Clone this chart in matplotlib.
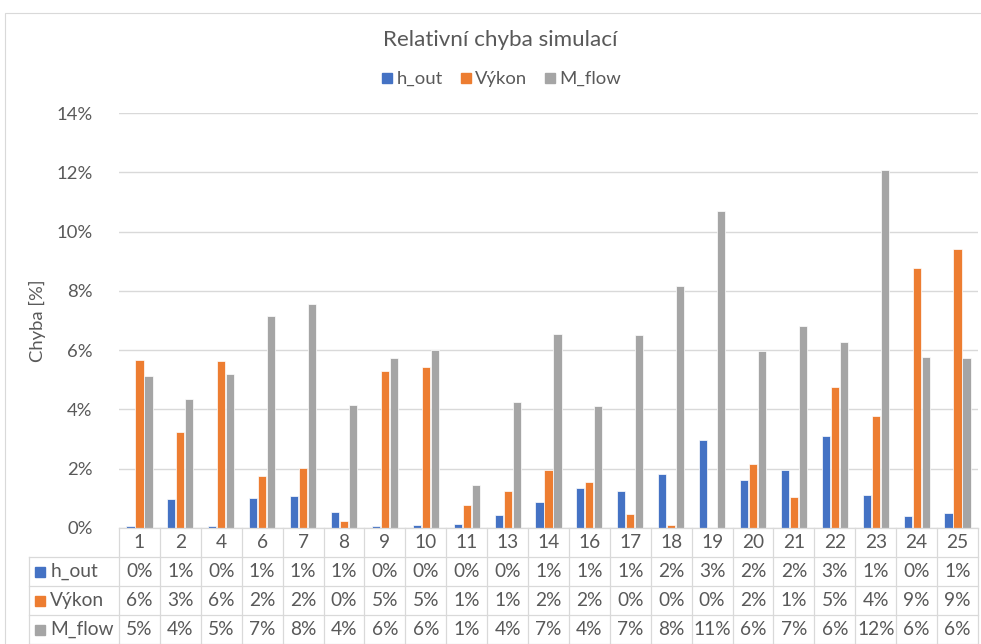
import matplotlib
matplotlib.use("Agg")
import matplotlib.pyplot as plt
from matplotlib.patches import Rectangle
from matplotlib.lines import Line2D
import numpy as np

plt.rcParams['font.family'] = ['Lato', 'DejaVu Sans']

categories = ['1', '2', '4', '6', '7', '8', '9', '10', '11', '13', '14', '16', '17',
              '18', '19', '20', '21', '22', '23', '24', '25']
h_out = [0.08, 0.98, 0.07, 1.02, 1.09, 0.54, 0.07, 0.10, 0.14, 0.45, 0.87, 1.35, 1.26,
         1.82, 2.97, 1.63, 1.96, 3.10, 1.13, 0.41, 0.52]
vykon = [5.67, 3.24, 5.65, 1.77, 2.03, 0.25, 5.29, 5.42, 0.79, 1.24, 1.96, 1.55, 0.46,
         0.11, 0.0, 2.15, 1.04, 4.74, 3.77, 8.77, 9.42]
m_flow = [5.14, 4.34, 5.21, 7.15, 7.56, 4.14, 5.74, 5.99, 1.44, 4.25, 6.54, 4.10, 6.51,
          8.18, 10.70, 5.98, 6.80, 6.26, 12.09, 5.77, 5.73]
series_names = ['h_out', 'Výkon', 'M_flow']
colors = ['#4472C4', '#ED7D31', '#A5A5A5']
y_ticks = [0, 2, 4, 6, 8, 10, 12, 14]

TXT = '#595959'
GRID = '#D9D9D9'
W, H = 981, 644

fig = plt.figure(figsize=(W / 100, H / 100), dpi=100)
fig.patch.set_facecolor('white')

# outer chart border
fig.patches.append(Rectangle((5 / W, -0.1), 1.1, (H - 13) / H + 0.1, transform=fig.transFigure,
                             fill=False, edgecolor=GRID, linewidth=0.8))

left, right = 119 / W, 978 / W
ax = fig.add_axes([left, (H - 528) / H, right - left, (528 - 113) / H])
n = len(categories)
x = np.arange(n)
series = [h_out, vykon, m_flow]
off = 0.22
bw = 0.2
for k, (vals, c, name) in enumerate(zip(series, colors, series_names)):
    ax.bar(x + (k - 1) * off, vals, width=bw, color=c, edgecolor='white', linewidth=0.5,
           label=name, zorder=3)
ax.set_xlim(-0.5, n - 0.5)
ax.set_ylim(0, 14)
ax.set_yticks(y_ticks)
ax.set_yticklabels([f'{t}%' for t in y_ticks], fontsize=13.3, color=TXT)
ax.tick_params(axis='y', length=0, pad=19)
ax.set_xticks([])
for s in ax.spines.values():
    s.set_visible(False)
ax.yaxis.grid(True, color=GRID, linewidth=1.0, zorder=0)
ax.set_axisbelow(True)
ax.set_ylabel('Chyba [%]', fontsize=13.3, color=TXT)
ax.yaxis.set_label_coords(-0.085, 0.5)

fig.text(500 / W, 1 - 40 / H, 'Relativní chyba simulací', ha='center', va='center',
         fontsize=16.1, color=TXT)
handles = [Line2D([], [], marker='s', markersize=6.6, color=c, linestyle='none')
           for c in colors]
leg = fig.legend(handles, series_names, loc='center', bbox_to_anchor=(502 / W, 1 - 79 / H),
                 ncol=3, frameon=False, fontsize=13.3, handlelength=0.5,
                 handletextpad=0.25, columnspacing=1.0, labelcolor=TXT)

# data table below the chart, sharing the chart's x scale
tab = fig.add_axes([left, 0, right - left, (H - 528) / H], sharex=ax)
tab.set_ylim(4, 0)
tab.axis('off')
col_w_px = (978 - 119) / n
lab_left = -0.5 - (119 - 29) / col_w_px
lw = 0.9
tab.plot([-0.5, n - 0.5], [0, 0], color=GRID, lw=lw, clip_on=False)
for r in range(1, 5):
    tab.plot([lab_left, n - 0.5], [r, r], color=GRID, lw=lw, clip_on=False)
for j in range(n + 1):
    tab.plot([j - 0.5, j - 0.5], [0, 4], color=GRID, lw=lw, clip_on=False)
tab.plot([lab_left, lab_left], [1, 4], color=GRID, lw=lw, clip_on=False)

fs = 13.8
for j, cat in enumerate(categories):
    tab.text(j, 0.5, cat, ha='center', va='center', fontsize=fs, color=TXT, clip_on=False)
for r, (vals, c, name) in enumerate(zip(series, colors, series_names), start=1):
    tab.plot([lab_left + 0.28], [r + 0.5], marker='s', markersize=7.5, color=c,
             linestyle='none', clip_on=False)
    tab.text(lab_left + 0.52, r + 0.5, name, ha='left', va='center', fontsize=fs,
             color=TXT, clip_on=False)
    for j, v in enumerate(vals):
        tab.text(j, r + 0.5, f'{int(np.floor(v + 0.5))}%', ha='center', va='center',
                 fontsize=fs, color=TXT, clip_on=False)

fig.savefig('out.png', dpi=100)
